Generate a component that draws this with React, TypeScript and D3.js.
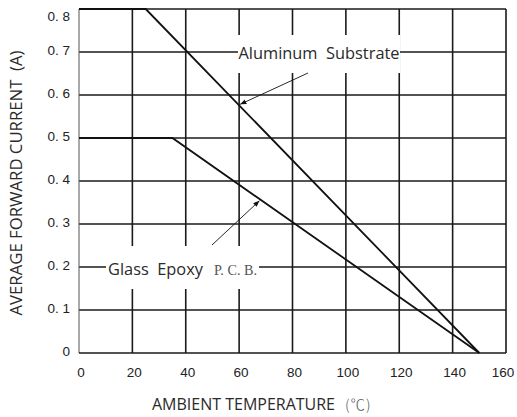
import React from "react";
import * as d3 from "d3";

// Derating curves
const aluminumTemp = [0, 25, 150];
const aluminumCurrent = [0.8, 0.8, 0];
const epoxyTemp = [0, 35, 150];
const epoxyCurrent = [0.5, 0.5, 0];

const xTicks = [0, 20, 40, 60, 80, 100, 120, 140, 160];
const yTicks = [0, 0.1, 0.2, 0.3, 0.4, 0.5, 0.6, 0.7, 0.8];
const yTickLabels = ["0", "0. 1", "0. 2", "0. 3", "0. 4", "0. 5", "0. 6", "0. 7", "0. 8"];

const W = 517;
const H = 417;
const margin = { top: 9, right: 11, bottom: 64, left: 79 };

const App: React.FC = () => {
    const x = d3.scaleLinear().domain([0, 160]).range([margin.left, W - margin.right]);
    const y = d3.scaleLinear().domain([0, 0.8]).range([H - margin.bottom, margin.top]);

    const line = d3.line<[number, number]>()
        .x((d) => x(d[0]))
        .y((d) => y(d[1]));

    const alum = aluminumTemp.map((t, i) => [t, aluminumCurrent[i]] as [number, number]);
    const epoxy = epoxyTemp.map((t, i) => [t, epoxyCurrent[i]] as [number, number]);

    const sans = "'Liberation Sans', Arial, sans-serif";
    const labelFont = "'Open Sans', 'DejaVu Sans', sans-serif";
    const cjk = "'Noto Sans CJK SC', sans-serif";

    // arrow tips sit on the curves
    const alTip: [number, number] = [x(60), y(0.8 * 90 / 125)];
    const epTip: [number, number] = [x(68), y(0.5 * 82 / 115)];

    return (
        <div style={{ position: "absolute", left: 0, top: 0 }}>
            <svg width={W} height={H} style={{ display: "block", background: "#fff" }}>
                <defs>
                    <marker id="arr" viewBox="0 0 10 10" refX="10" refY="5" markerWidth="7" markerHeight="7" orient="auto">
                        <path d="M0,1 L10,5 L0,9 z" fill="#111" />
                    </marker>
                </defs>

                {/* grid */}
                {xTicks.slice(1).map((t) => (
                    <line key={"vx" + t} x1={x(t)} x2={x(t)} y1={y(0)} y2={y(0.8)} stroke="#1a1a1a" strokeWidth={1.6} />
                ))}
                {yTicks.slice(1).map((t) => (
                    <line key={"hy" + t} x1={x(0)} x2={x(160)} y1={y(t)} y2={y(t)} stroke="#1a1a1a" strokeWidth={1.6} />
                ))}
                <line x1={x(0)} x2={x(0)} y1={y(0)} y2={y(0.8)} stroke="#555" strokeWidth={1} />
                <line x1={x(0)} x2={x(160)} y1={y(0)} y2={y(0)} stroke="#1a1a1a" strokeWidth={1.6} />

                {/* label boxes covering the grid */}
                <rect x={238} y={35} width={162} height={38} fill="#fff" />
                <rect x={106} y={246} width={153} height={43} fill="#fff" />

                {/* curves */}
                <path d={line(alum) || ""} fill="none" stroke="#111" strokeWidth={1.8} />
                <path d={line(epoxy) || ""} fill="none" stroke="#111" strokeWidth={1.8} />

                {/* callouts */}
                <line x1={308} y1={73} x2={alTip[0] + 1} y2={alTip[1] - 1} stroke="#111" strokeWidth={0.9} markerEnd="url(#arr)" />
                <line x1={212} y1={245} x2={epTip[0] - 1} y2={epTip[1] + 1} stroke="#111" strokeWidth={0.9} markerEnd="url(#arr)" />

                <text x={238.5} y={58.5} fontFamily={labelFont} fontSize={17} fill="#2a2a2a"
                    textLength={161} lengthAdjust="spacingAndGlyphs">
                    Aluminum&#160; Substrate
                </text>
                <text x={108} y={275} fontFamily={labelFont} fontSize={17} fill="#2a2a2a"
                    textLength={95} lengthAdjust="spacingAndGlyphs">
                    Glass&#160; Epoxy
                </text>
                <text x={214} y={275} fontFamily="'Liberation Serif', 'DejaVu Serif', serif" fontSize={15} fill="#555"
                    textLength={43} lengthAdjust="spacingAndGlyphs">
                    P. C. B.
                </text>

                {/* tick labels */}
                {yTicks.map((t, i) => (
                    <text key={"yl" + t} x={70} y={t === 0.8 ? 20.5 : y(t) + 2.5} textAnchor="end" fontFamily={sans} fontSize={13.5} fill="#222">
                        {yTickLabels[i]}
                    </text>
                ))}
                {xTicks.map((t) => (
                    <text key={"xl" + t} x={Math.min(x(t) + 2, W - 14)} y={377} textAnchor="middle" fontFamily={sans} fontSize={13.5} fill="#222">
                        {t}
                    </text>
                ))}

                {/* axis titles */}
                <text x={152} y={410} fontFamily={labelFont} fontSize={16.5} fill="#2a2a2a"
                    textLength={183} lengthAdjust="spacingAndGlyphs">
                    AMBIENT TEMPERATURE
                </text>
                <text x={345} y={410} fontFamily={cjk} fontWeight={300} fontSize={14.5} fill="#555" letterSpacing={1}>
                    (℃)
                </text>
                <text transform={`translate(22,183) rotate(-90)`} textAnchor="middle" fontFamily={labelFont} fontSize={17} fill="#2a2a2a"
                    textLength={265} lengthAdjust="spacingAndGlyphs">
                    AVERAGE FORWARD CURRENT&#160; (A)
                </text>
            </svg>
        </div>
    );
};

export default App;
